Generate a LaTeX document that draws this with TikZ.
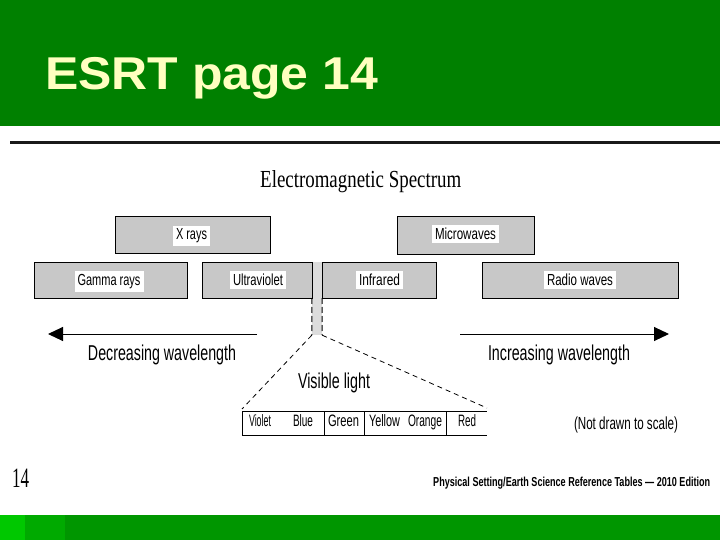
\documentclass[tikz,border=0pt]{standalone}
\usepackage{fontspec}
\setmainfont{Liberation Sans}
\newfontfamily\serifface{Liberation Serif}
\usetikzlibrary{arrows.meta}
\definecolor{topgreen}{RGB}{0,128,0}
\definecolor{titlecol}{RGB}{255,255,192}
\definecolor{boxgrey}{RGB}{200,200,200}
\definecolor{bargrey}{RGB}{220,220,220}
\definecolor{gA}{RGB}{0,200,0}
\definecolor{gB}{RGB}{0,170,0}
\definecolor{gC}{RGB}{0,150,0}
\definecolor{rulecol}{RGB}{25,25,25}
\newcommand\fw[3]{\resizebox{#1pt}{\height}{\fontsize{#2pt}{#2pt}\selectfont #3}}
\begin{document}
\begin{tikzpicture}[x=1pt,y=-1pt,
  band/.style={draw=black, line width=1pt, fill=boxgrey, rectangle, inner sep=0pt},
  lbl/.style={fill=white, inner xsep=3pt, inner ysep=3pt, anchor=base},
  txt/.style={inner sep=0pt, anchor=base},
  bigarrow/.style={line width=1pt, -{Triangle[length=15pt,width=14pt]}},
  zoomline/.style={line width=0.8pt, dash pattern=on 5pt off 4pt},
  tabline/.style={line width=1pt}
]
\useasboundingbox (0,0) rectangle (720,540);
\fill[white] (0,0) rectangle (720,540);
% header band
\fill[topgreen] (0,0) rectangle (720,126);
\node[txt, anchor=base west, text=titlecol] (title) at (45,90) {\fw{333}{46}{\bfseries ESRT page 14}};
% rule
\fill[rulecol] (10,141) rectangle (720,144);
% heading
\node[txt, anchor=base west] (head) at (260,188) {\fw{201}{24.5}{\serifface Electromagnetic Spectrum}};
% visible bar
\node[rectangle, fill=bargrey, inner sep=0pt, minimum width=10pt, minimum height=73pt] (bar) at (317,298.5) {};
% boxes
\node[band, minimum width=155pt, minimum height=37pt] (xr) at (192.5,235) {};
\node[band, minimum width=137pt, minimum height=37pt] (mw) at (465.5,235.5) {};
\node[band, minimum width=153pt, minimum height=36pt] (gr) at (110.5,280) {};
\node[band, minimum width=110pt, minimum height=36pt] (uv) at (257,280) {};
\node[band, minimum width=114pt, minimum height=36pt] (ir) at (379,280) {};
\node[band, minimum width=196pt, minimum height=36pt] (rw) at (580,280) {};
% labels
\node[lbl] (xrl) at (191.5,240) {\fw{31}{16}{X rays}};
\node[lbl] (mwl) at (465.5,240) {\fw{61}{16}{Microwaves}};
\node[lbl] (grl) at (109,285.5) {\fw{63}{16}{Gamma rays}};
\node[lbl] (uvl) at (258,285.5) {\fw{50}{16}{Ultraviolet}};
\node[lbl] (irl) at (379.5,285.5) {\fw{41}{16}{Infrared}};
\node[lbl] (rwl) at (580,285.5) {\fw{66}{16}{Radio waves}};
% dashed sides of the bar
\coordinate (bl) at (312,298);
\coordinate (br) at (322,298);
\draw[line width=1pt, dash pattern=on 6pt off 3pt] (bl) -- (bar.south west);
\draw[line width=1pt, dash pattern=on 6pt off 3pt] (br) -- (bar.south east);
% arrows
\coordinate (la0) at (257,334);
\coordinate (la1) at (48,334);
\coordinate (ra0) at (460,334);
\coordinate (ra1) at (669,334);
\draw[bigarrow] (la0) -- (la1);
\draw[bigarrow] (ra0) -- (ra1);
\node[txt] (dec) at (162,360) {\fw{148}{21.5}{Decreasing wavelength}};
\node[txt] (inc) at (559,360) {\fw{142}{21.5}{Increasing wavelength}};
% zoom to visible table
\coordinate (tl) at (242,409);
\coordinate (tr) at (487,408);
\draw[zoomline] (bar.south west) -- (tl);
\draw[zoomline] (bar.south east) -- (tr);
\node[txt] (vis) at (334,388) {\fw{72}{21.5}{Visible light}};
% visible table
\draw[line width=1.6pt] (242,411.5) -- (487,411.5);
\draw[tabline] (242,435) -- (487,435);
\draw[tabline] (242,411.5) -- (242,435);
\draw[tabline] (324,411.5) -- (324,435);
\draw[tabline] (364,411.5) -- (364,435);
\draw[tabline] (446,411.5) -- (446,435);
\node[txt] (cv) at (260,426.5) {\fw{22}{16.5}{Violet}};
\node[txt] (cb) at (303,426.5) {\fw{20}{16.5}{Blue}};
\node[txt] (cg) at (343.5,426.5) {\fw{31}{16.5}{Green}};
\node[txt] (cy) at (384.5,426.5) {\fw{31}{16.5}{Yellow}};
\node[txt] (co) at (425,426.5) {\fw{34}{16.5}{Orange}};
\node[txt] (cr) at (467,426.5) {\fw{18}{16.5}{Red}};
\node[txt] (scale) at (626,429) {\fw{104}{17.5}{(Not drawn to scale)}};
% footer
\node[txt, anchor=base west] (pg) at (12,487) {\fw{17}{28}{\serifface 14}};
\node[txt, anchor=base west] (foot) at (433,486) {\fw{277}{13}{\bfseries Physical Setting/Earth Science Reference Tables --- 2010 Edition}};
% bottom band
\fill[gC] (0,515) rectangle (720,540);
\fill[gB] (25,515) rectangle (65,540);
\fill[gA] (0,515) rectangle (25,540);
\end{tikzpicture}
\end{document}
